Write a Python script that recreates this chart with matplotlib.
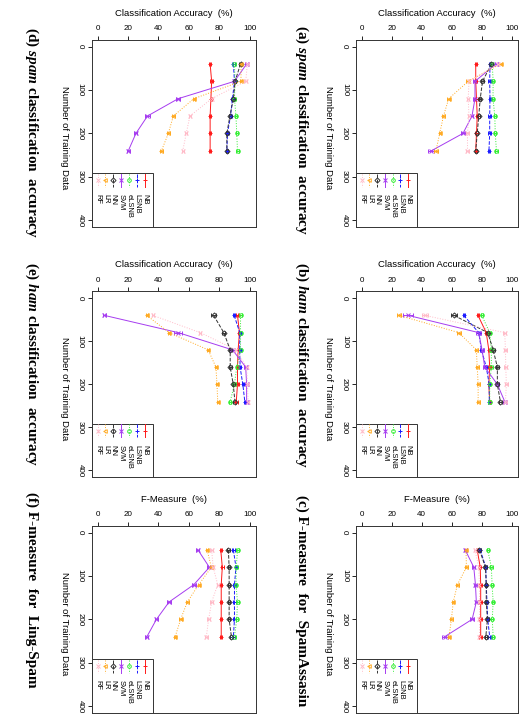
"""
Spam filtering results: accuracy / F-measure vs. number of training data.
Six panels, laid out rotated (training size runs down the page).
"""
import matplotlib
matplotlib.use("Agg")
import matplotlib.pyplot as plt
from matplotlib.transforms import offset_copy
from matplotlib.patches import Rectangle

plt.rcParams["font.family"] = ["Liberation Sans", "DejaVu Sans"]
plt.rcParams["mathtext.fontset"] = "custom"
plt.rcParams["mathtext.rm"] = "Liberation Serif:bold"
plt.rcParams["mathtext.bfit"] = "Liberation Serif:italic:bold"

train_sizes = [40, 80, 120, 160, 200, 240]
methods = ["NB", "LSNB", "eLSNB", "SVM", "NN", "LR", "RF"]

# (a) spam classification accuracy
acc_a = {
    "NB":    [76, 76, 76.5, 77, 76.5, 76],
    "LSNB":  [85.5, 85.3, 85.5, 85.3, 85.3, 84.8],
    "eLSNB": [87, 87.6, 87.5, 88.7, 89, 89.8],
    "SVM":   [89.5, 75.5, 75.5, 73.5, 67.5, 46.5],
    "NN":    [86.5, 80.5, 79, 78, 77, 76],
    "LR":    [92.5, 71, 58, 54.5, 52, 49.5],
    "RF":    [91, 71.5, 71, 71.5, 70.5, 70.5],
}
# (b) ham classification accuracy
acc_b = {
    "NB":    [77.5, 83, 84.7, 85.3, 84.7, 85.3],
    "LSNB":  [68, 78, 79.8, 83, 85, 85],
    "eLSNB": [80, 85.3, 86.4, 86.4, 85.3, 85.3],
    "SVM":   [31, 78, 80.2, 82, 90.4, 95.3],
    "NN":    [61.5, 84, 87.6, 90.4, 90.4, 92.4],
    "LR":    [25, 64.7, 76.4, 77, 77.6, 77.6],
    "RF":    [42, 95.3, 95.8, 96, 96.4, 95.8],
}
# (c) F-measure for SpamAssasin
fm_c = {
    "NB":    [77, 79, 79.3, 79.3, 79.3, 79.3],
    "LSNB":  [79, 82.7, 83, 83.5, 84, 85.3],
    "eLSNB": [84, 86.4, 86.9, 87.6, 87, 87.6],
    "SVM":   [69, 74.7, 75.8, 76.4, 73.6, 55.3],
    "NN":    [78.5, 82.5, 83, 83, 83.8, 82.7],
    "LR":    [69.5, 69.8, 63.8, 61, 59.8, 58.2],
    "RF":    [75.5, 78, 78.5, 78.5, 78.5, 78.5],
}
# (d) spam classification accuracy
acc_d = {
    "NB":    [74, 75, 74.5, 74, 74, 74],
    "LSNB":  [89.3, 90, 88.7, 87.4, 85.4, 85],
    "eLSNB": [90, 90.4, 90, 91, 91.5, 92],
    "SVM":   [98, 90, 53, 32.8, 25.2, 20.2],
    "NN":    [94, 90.4, 89.3, 87, 85, 85],
    "LR":    [94.3, 94.3, 63.3, 49.8, 46.5, 42],
    "RF":    [98.5, 97.4, 75, 60.7, 58.3, 56],
}
# (e) ham classification accuracy
acc_e = {
    "NB":    [92, 93.3, 92.4, 92, 92, 91.2],
    "LSNB":  [89.8, 93.5, 93.5, 93.7, 95.5, 96.8],
    "eLSNB": [94, 94, 94, 91.5, 90, 87.2],
    "SVM":   [4.5, 53, 88.7, 97.4, 98, 98],
    "NN":    [76.3, 83, 87.2, 87.2, 89.2, 90.3],
    "LR":    [32.3, 47, 72.7, 77.8, 78.5, 79],
    "RF":    [36.3, 67.5, 91, 98, 98.5, 99],
}
# (f) F-measure for Ling-Spam
fm_f = {
    "NB":    [81, 82, 81.3, 81.3, 81.3, 81.3],
    "LSNB":  [89.3, 91, 90, 90, 90, 89.3],
    "eLSNB": [92, 91.2, 91, 92, 91.5, 90],
    "SVM":   [66, 73.5, 63.3, 47, 38.7, 32.4],
    "NN":    [86, 86.5, 86.5, 86.5, 86.5, 88],
    "LR":    [72, 74.8, 66.5, 59, 54.6, 51],
    "RF":    [75, 76, 79, 75, 73, 71.5],
}

# error bar half-widths that stand out; everything else uses DEFAULT_ERR
DEFAULT_ERR = 0.8
err_a = {"SVM": [1, 1, 1, 1, 1.5, 2], "LR": [1, 1.5, 1, 0.8, 0.8, 1.5]}
err_b = {"SVM": [3.5, 1.5, 1, 1, 1, 1], "LR": [1.5, 1.2, 1, 1, 1, 1],
         "NN": [2, 1, 1, 1, 1, 1], "RF": [2, 1, 1, 1, 1, 1]}
err_c = {"SVM": [1, 1, 1, 1, 1.5, 2]}
err_d = {"SVM": [1, 1, 1.5, 1.5, 1, 1]}
err_e = {"SVM": [1, 2.5, 1.5, 1, 1, 1], "NN": [1.5, 1, 1, 1, 1, 1]}
err_f = {"SVM": [1, 1.5, 1.5, 1.5, 1, 1]}

styles = {
    "NB":    dict(color="#FF1A1A", ls="-",  marker="+"),
    "LSNB":  dict(color="#1A1AFF", ls="--", marker="+"),
    "eLSNB": dict(color="#33EE33", ls=":",  marker="o"),
    "SVM":   dict(color="#A63CF0", ls="-",  marker="x"),
    "NN":    dict(color="#333333", ls="--", marker="D"),
    "LR":    dict(color="#FFAA22", ls=":",  marker="<"),
    "RF":    dict(color="#FFBBC8", ls=":",  marker="x"),
}

ACC_LABEL = "Classification Accuracy  (%)"
FM_LABEL = "F-Measure  (%)"

panels = [
    # data, errors, value label, title, axes rect (fig fraction), title pos
    (acc_a, err_a, ACC_LABEL, "(a) $\\mathbfit{spam}$ classification  accuracy",
     [0.680, 0.685, 0.310, 0.260], (0.577, 0.966)),
    (acc_b, err_b, ACC_LABEL, "(b) $\\mathbfit{ham}$ classification  accuracy",
     [0.680, 0.338, 0.310, 0.258], (0.577, 0.637)),
    (fm_c, err_c, FM_LABEL, "(c) F-measure  for  SpamAssasin",
     [0.680, 0.011, 0.310, 0.260], (0.577, 0.314)),
    (acc_d, err_d, ACC_LABEL, "(d) $\\mathbfit{spam}$ classification  accuracy",
     [0.175, 0.685, 0.314, 0.260], (0.061, 0.963)),
    (acc_e, err_e, ACC_LABEL, "(e) $\\mathbfit{ham}$ classification  accuracy",
     [0.175, 0.338, 0.314, 0.258], (0.061, 0.637)),
    (fm_f, err_f, FM_LABEL, "(f) F-measure  for  Ling-Spam",
     [0.175, 0.011, 0.314, 0.260], (0.061, 0.317)),
]


def draw_panel(fig, data, errs, value_label, rect):
    ax = fig.add_axes(rect)
    for m in methods:
        st = styles[m]
        xerr = errs.get(m, [DEFAULT_ERR] * len(train_sizes))
        ax.errorbar(data[m], train_sizes, xerr=xerr, color=st["color"],
                    ls=st["ls"], lw=0.7, marker=st["marker"], ms=2.6,
                    mfc="none", mew=0.7, elinewidth=0.7, capsize=1.6,
                    capthick=0.7)

    ax.set_xlim(-4, 104)
    ax.set_ylim(416, -16)
    ax.xaxis.tick_top()
    ax.set_xticks([0, 20, 40, 60, 80, 100])
    ax.set_yticks([0, 100, 200, 300, 400])
    ax.tick_params(axis="x", labelsize=5.8, length=3, width=0.6, pad=2.2)
    ax.tick_params(axis="y", labelsize=5.8, length=3, width=0.6, pad=2.5)
    for lbl in ax.get_yticklabels():
        lbl.set_rotation(-90)
        lbl.set_va("center")
    for sp in ax.spines.values():
        sp.set_linewidth(0.7)
        sp.set_color("#333333")

    ax.text(0.5, 1.0, value_label,
            transform=offset_copy(ax.transAxes, fig=fig, x=0, y=26.5, units="dots"),
            ha="center", va="center", fontsize=6.8)
    ax.text(0.0, 0.5, "Number of Training Data",
            transform=offset_copy(ax.transAxes, fig=fig, x=-27.5, y=-4, units="dots"),
            ha="center", va="center", rotation=-90, fontsize=6.8)

    # legend, drawn by hand because the whole figure is turned on its side
    ax.add_patch(Rectangle((0, 0), 0.377, 0.288, transform=ax.transAxes,
                           facecolor="white", edgecolor="#333333", lw=0.7,
                           zorder=5))
    for i, m in enumerate(methods):
        st = styles[m]
        xpos = 0.324 - i * 0.0478
        ax.plot([xpos, xpos], [0.285, 0.215], transform=ax.transAxes,
                color=st["color"], ls=st["ls"], lw=0.7, zorder=6)
        ax.plot([xpos], [0.25], transform=ax.transAxes, color=st["color"],
                marker=st["marker"], ms=2.6, mfc="none", mew=0.7, zorder=6)
        ax.text(xpos, 0.175, m, transform=ax.transAxes, rotation=-90,
                ha="center", va="top", fontsize=5.4, zorder=6)
    return ax


def main():
    fig = plt.figure(figsize=(5.23, 7.21), dpi=100)
    for data, errs, label, title, rect, tpos in panels:
        draw_panel(fig, data, errs, label, rect)
        fig.text(tpos[0], tpos[1], title, rotation=-90, ha="center", va="top",
                 fontsize=11, family="Liberation Serif", weight="bold")
    fig.savefig("out.png", dpi=100, facecolor="white")


if __name__ == "__main__":
    main()
